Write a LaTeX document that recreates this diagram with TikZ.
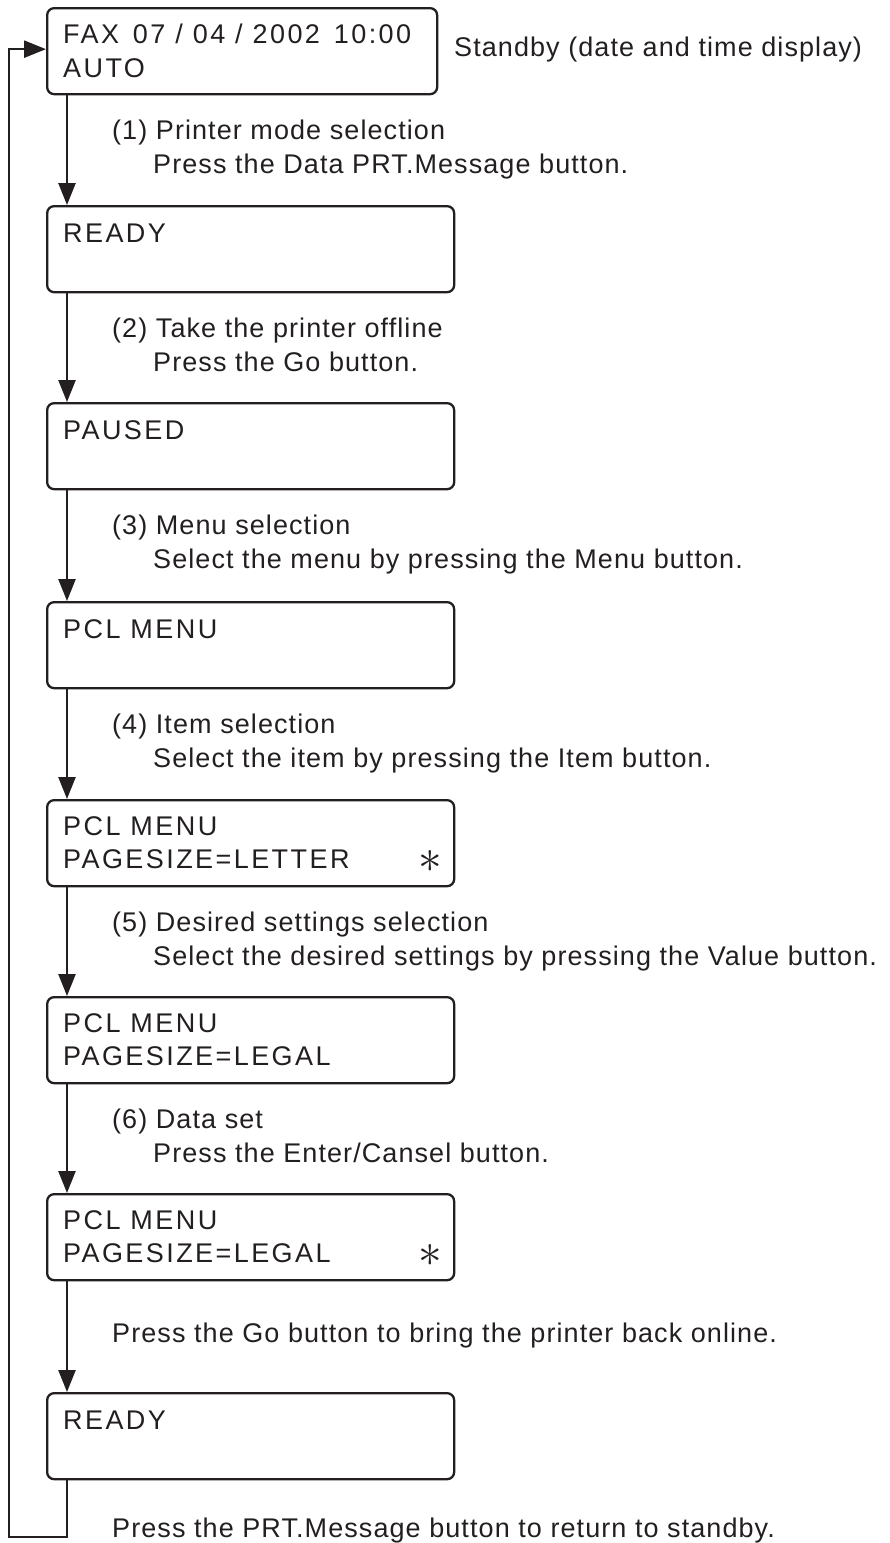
\documentclass[tikz,border=0pt]{standalone}
\usepackage{fontspec}
\usepackage{graphicx}
\setmainfont[LetterSpace=4]{Liberation Sans}
\newfontfamily\boxfont[LetterSpace=9]{Liberation Sans}
\usetikzlibrary{arrows.meta}
\definecolor{ink}{HTML}{231F20}
\begin{document}
\begin{tikzpicture}[x=1pt,y=-1pt,
  box/.style={draw=ink,line width=2.3pt,rounded corners=7pt,inner sep=0pt,anchor=north west,minimum height=86pt,minimum width=407pt},
  txt/.style={anchor=base west,inner sep=0pt,text=ink,font=\fontsize{27}{34}\selectfont},
  btxt/.style={anchor=base west,inner sep=0pt,text=ink,font=\boxfont\fontsize{27}{34}\selectfont},
  star/.style={anchor=center,inner sep=0pt,text=ink,font=\fontsize{25}{34}\selectfont},
  flow/.style={draw=ink,line width=2.5pt,line join=miter,-{Triangle[length=22pt,width=17pt]}}]
\useasboundingbox (0,0) rectangle (890,1543);
% boxes
\node[box,minimum width=390pt] (b1) at (46,7) {};
\node[box] (b2) at (46,205) {};
\node[box] (b3) at (46,402) {};
\node[box] (b4) at (46,601) {};
\node[box] (b5) at (46,799) {};
\node[box] (b6) at (46,996) {};
\node[box] (b7) at (46,1193) {};
\node[box] (b8) at (46,1392) {};
% box texts
\node[btxt] (t1a) at (63,43) {FAX\hspace{4pt} 07 / 04 / 2002\hspace{4pt} 10:00};
\node[btxt] (t1b) at (63,77) {AUTO};
\node[btxt] (t2) at (63,242) {READY};
\node[btxt] (t3) at (63,439) {PAUSED};
\node[btxt] (t4) at (63,638) {PCL MENU};
\node[btxt] (t5a) at (63,835) {PCL MENU};
\node[btxt] (t5b) at (63,868) {PAGESIZE=LETTER};
\node[star] (s5) at (430,861) {\scalebox{1.9}{$\ast$}};
\node[btxt] (t6a) at (63,1032) {PCL MENU};
\node[btxt] (t6b) at (63,1065) {PAGESIZE=LEGAL};
\node[btxt] (t7a) at (63,1229) {PCL MENU};
\node[btxt] (t7b) at (63,1262) {PAGESIZE=LEGAL};
\node[star] (s7) at (430,1255) {\scalebox{1.9}{$\ast$}};
\node[btxt] (t8) at (63,1429) {READY};
% side note
\node[txt] (sb) at (454,56) {Standby (date and time display)};
% step labels
\node[txt] (l1a) at (112,139) {(1) Printer mode selection};
\node[txt] (l1b) at (153,173) {Press the Data PRT.Message button.};
\node[txt] (l2a) at (112,337) {(2) Take the printer offline};
\node[txt] (l2b) at (153,371) {Press the Go button.};
\node[txt] (l3a) at (112,534) {(3) Menu selection};
\node[txt] (l3b) at (153,568) {Select the menu by pressing the Menu button.};
\node[txt] (l4a) at (112,733) {(4) Item selection};
\node[txt] (l4b) at (153,767) {Select the item by pressing the Item button.};
\node[txt] (l5a) at (112,931) {(5) Desired settings selection};
\node[txt] (l5b) at (153,965) {Select the desired settings by pressing the Value button.};
\node[txt] (l6a) at (112,1128) {(6) Data set};
\node[txt] (l6b) at (153,1162) {Press the Enter/Cansel button.};
\node[txt] (l7) at (112,1342) {Press the Go button to bring the printer back online.};
\node[txt] (l8) at (112,1537) {Press the PRT.Message button to return to standby.};
% connectors
\draw[flow] ([xshift=21pt]b1.south west) -- ([xshift=21pt]b2.north west);
\draw[flow] ([xshift=21pt]b2.south west) -- ([xshift=21pt]b3.north west);
\draw[flow] ([xshift=21pt]b3.south west) -- ([xshift=21pt]b4.north west);
\draw[flow] ([xshift=21pt]b4.south west) -- ([xshift=21pt]b5.north west);
\draw[flow] ([xshift=21pt]b5.south west) -- ([xshift=21pt]b6.north west);
\draw[flow] ([xshift=21pt]b6.south west) -- ([xshift=21pt]b7.north west);
\draw[flow] ([xshift=21pt]b7.south west) -- ([xshift=21pt]b8.north west);
\coordinate (lb) at (9,1537);
\draw[flow] ([xshift=21pt]b8.south west) |- (lb) |- ([yshift=2pt]b1.west);
\end{tikzpicture}
\end{document}
